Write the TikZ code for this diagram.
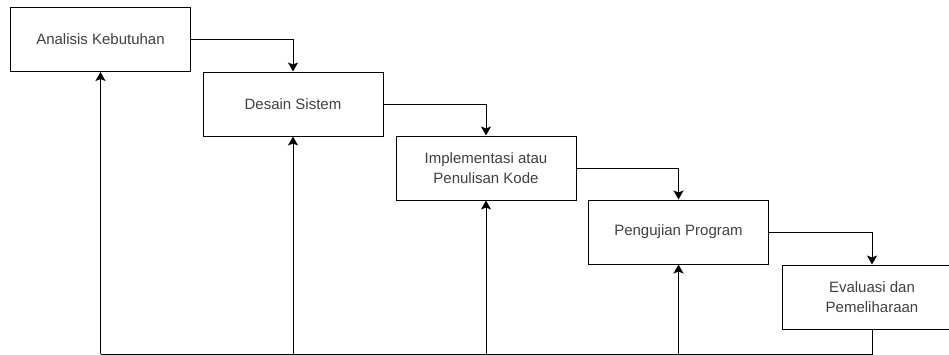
\documentclass[tikz,border=0pt]{standalone}
\usepackage{fontspec}
\setmainfont{Liberation Sans}
\usetikzlibrary{arrows.meta}

\tikzset{
  tahap/.style={draw, line width=1pt, minimum width=180pt, minimum height=64pt,
    inner sep=0pt, align=center, text=black!75,
    font=\fontsize{15}{19.5}\selectfont},
  panah/.style={line width=1pt, -{Stealth[length=9pt, width=10pt, inset=2pt]}},
  garis/.style={line width=1pt}
}

\begin{document}
\begin{tikzpicture}[x=1pt, y=-1pt]
			\useasboundingbox (0,0) rectangle (949,354);

			% tahapan waterfall
			\node[tahap] (analisis) at (100.5,39.5) {Analisis Kebutuhan};
			\node[tahap] (desain) at (293,104) {Desain Sistem};
			\node[tahap] (kode) at (486,168) {Implementasi atau\\Penulisan Kode};
			\node[tahap] (uji) at (678.5,232) {Pengujian Program};
			\node[tahap] (evaluasi) at (872,297) {Evaluasi dan\\Pemeliharaan};

			% panah turun ke tahap berikutnya
			\draw[panah] (analisis.east) -| (desain.north);
			\draw[panah] (desain.east) -| (kode.north);
			\draw[panah] (kode.east) -| (uji.north);
			\draw[panah] (uji.east) -| (evaluasi.north);

			% umpan balik dari bawah
			\coordinate (dasar) at (100.5,354);
			\draw[garis] (evaluasi.south) |- (dasar);
			\foreach \t in {analisis,desain,kode,uji}
			\draw[panah] (\t.south |- dasar) -- (\t.south);
\end{tikzpicture}
\end{document}
